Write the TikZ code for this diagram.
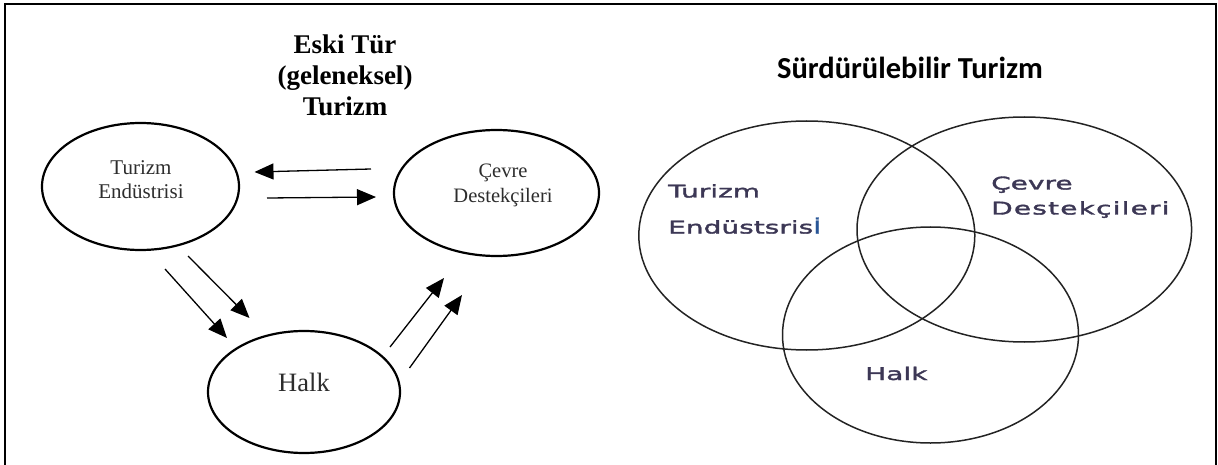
\documentclass[tikz,border=0pt]{standalone}
\usepackage{fontspec}
\setmainfont{Liberation Serif}
\newfontfamily\vennfont[FakeStretch=1.6,FakeBold=2]{DejaVu Sans}
\newfontfamily\vennwide[FakeStretch=1.6,FakeBold=2,LetterSpace=6.8]{DejaVu Sans}
\newfontfamily\headsans{Carlito}
\usetikzlibrary{shapes.geometric,arrows.meta}
\definecolor{inkgrey}{RGB}{45,45,45}
\definecolor{vennink}{RGB}{60,55,85}
\definecolor{vennblue}{RGB}{40,85,150}
\definecolor{vennline}{RGB}{35,35,35}

\begin{document}
\begin{tikzpicture}[x=1pt,y=-1pt,
  bubble/.style={ellipse,draw=black,line width=2.2pt,inner sep=0pt},
  vennset/.style={ellipse,draw=vennline,line width=1.5pt,inner sep=0pt},
  flow/.style={line width=1.3pt,-{Triangle[length=19pt,width=16pt]}},
  lbl/.style={inner sep=0pt,align=center,anchor=base,text=inkgrey,font=\fontsize{21}{24.5}\selectfont},
  vlbl/.style={inner sep=0pt,anchor=base west,text=vennink,font=\vennfont\fontsize{17.5}{20}\selectfont},
]
\useasboundingbox (0,0) rectangle (1218,465);

% outer frame (open at the bottom)
\draw[line width=2.2pt] (5,465) -- (5,4) -- (1216,4) -- (1216,465);

% ---- traditional tourism ----
% (base anchor of a multi-line node sits on its last line)
\node[inner sep=0pt,align=center,anchor=base,font=\bfseries\fontsize{27}{31}\selectfont]
  (oldtitle) at (345,116) {Eski Tür\\(geleneksel)\\Turizm};

\node[bubble,minimum width=197pt,minimum height=127pt] (te) at (140.5,186.5) {};
\node[bubble,minimum width=205pt,minimum height=126pt] (cd) at (496.5,193) {};
\node[bubble,minimum width=192pt,minimum height=122pt] (hk) at (304,392) {};

\node[lbl] (te-t) at (141,199) {Turizm\\Endüstrisi};
\node[lbl,font=\fontsize{20.5}{25}\selectfont] (cd-t) at (503,203) {Çevre\\Destekçileri};
\node[lbl,font=\fontsize{26.5}{30}\selectfont] (hk-t) at (304,391) {Halk};

% arrow end points between the bubbles
\coordinate (a1s) at (371,169);   \coordinate (a1e) at (254.5,172);
\coordinate (a2s) at (267,198);   \coordinate (a2e) at (376,197);
\coordinate (a3s) at (165,269);   \coordinate (a3e) at (227,338);
\coordinate (a4s) at (188,256);   \coordinate (a4e) at (249.5,318);
\coordinate (a5s) at (390,347);   \coordinate (a5e) at (444,278);
\coordinate (a6s) at (409.5,368); \coordinate (a6e) at (462,295);

\draw[flow] (a1s) -- (a1e);
\draw[flow] (a2s) -- (a2e);
\draw[flow] (a3s) -- (a3e);
\draw[flow] (a4s) -- (a4e);
\draw[flow] (a5s) -- (a5e);
\draw[flow] (a6s) -- (a6e);

% ---- sustainable tourism ----
\node[inner sep=0pt,anchor=base,font=\headsans\bfseries\fontsize{30.5}{34}\selectfont]
  (newtitle) at (910,79) {Sürdürülebilir Turizm};

\node[vennset,minimum width=336pt,minimum height=229pt] (vte) at (806.8,235.5) {};
\node[vennset,minimum width=334.6pt,minimum height=225pt] (vcd) at (1024.3,229.5) {};
\node[vennset,minimum width=296pt,minimum height=216pt] (vhk) at (930.5,335) {};

\node[vlbl] (vte-a) at (668,197.5) {Turizm};
\node[vlbl] (vte-b) at (668,233.5) {Endüstsris\textcolor{vennblue}{İ}};
\node[vlbl] (vcd-a) at (991,189.5) {Çevre};
\node[vlbl,font=\vennwide\fontsize{17.5}{20}\selectfont] (vcd-b) at (991,214.5) {Destekçileri};
\node[vlbl] (vhk-a) at (865,380) {Halk};
\end{tikzpicture}
\end{document}
